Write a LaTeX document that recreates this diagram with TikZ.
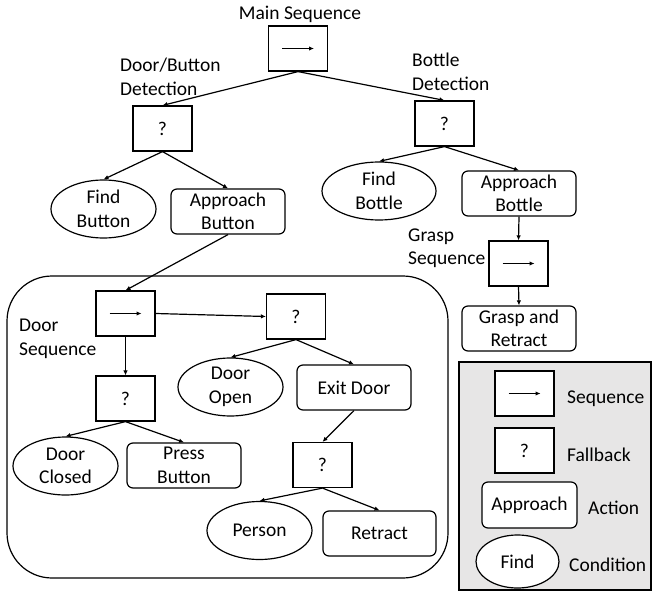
\documentclass[tikz,border=0pt]{standalone}
\usepackage{fontspec}
\setmainfont{Carlito}
\usetikzlibrary{shapes.geometric,arrows.meta}
\definecolor{legendgray}{HTML}{E7E6E6}
\begin{document}
\begin{tikzpicture}[x=1pt,y=-1pt,
  every node/.style={font=\fontsize{19.5}{23.5}\selectfont, inner sep=0pt},
  lw/.style={line width=1.2pt},
  ctrl/.style={lw, draw, fill=white, minimum width=59pt, minimum height=45pt},
  act/.style={lw, draw, fill=white, rounded corners=6pt, minimum width=114pt, minimum height=45pt, align=center},
  cond/.style={lw, draw, fill=white, ellipse, minimum width=105pt, minimum height=58pt, align=center},
  arr/.style={lw, -{Latex[length=5pt,width=4.5pt]}},
  lbl/.style={anchor=west, align=left}
]
\useasboundingbox (0,0) rectangle (652,601);
% group and legend frames
\draw[lw, rounded corners=45pt] (7,276) rectangle (448,578);
\draw[lw, fill=legendgray] (459,362) rectangle (651,590);

% macro-free sequence symbol via style
\tikzset{seqsym/.style={}}

% main tree
\node[ctrl] (main) at (298,48.5) {};
\node (mainlbl) at (300,14) {Main Sequence};

\node[ctrl] (dbd) at (162.5,128.5) {?};
\node[lbl] (dbdlbl) at (120,77) {Door/Button\\Detection};
\node[cond] (fbtn) at (103.5,209) {Find\\Button};
\node[act] (abtn) at (228,211.5) {Approach\\Button};

\node[ctrl] (bd) at (444.5,123.5) {?};
\node[lbl] (bdlbl) at (412,72) {Bottle\\Detection};
\node[cond, minimum width=114pt] (fbot) at (379,191) {Find\\Bottle};
\node[act] (abot) at (519,193.5) {Approach\\Bottle};
\node[ctrl] (gseq) at (518.5,263.5) {};
\node[lbl] (gseqlbl) at (408,248) {Grasp\\Sequence};
\node[act] (gret) at (519,328.5) {Grasp and\\Retract};

% door sequence group
\node[ctrl] (dseq) at (125.5,313.5) {};
\node[lbl] (dseqlbl) at (19,339) {Door\\Sequence};
\node[ctrl] (dfb2) at (296,316.5) {?};
\node[ctrl] (dfb1) at (125.5,398.5) {?};
\node[cond] (dclosed) at (65.5,466) {Door\\Closed};
\node[act] (press) at (184,465.5) {Press\\Button};
\node[cond] (dopen) at (230.5,387) {Door\\Open};
\node[act] (exit) at (354,387.5) {Exit Door};
\node[ctrl] (pfb) at (322.5,465) {?};
\node[cond] (person) at (259.5,530.5) {Person};
\node[act, minimum width=113pt] (retract) at (379.5,533.5) {Retract};

% legend
\node[ctrl] (lseq) at (524.5,393.5) {};
\node[lbl] (lseqlbl) at (567,399) {Sequence};
\node[ctrl] (lfb) at (524.5,450.5) {?};
\node[lbl] (lfblbl) at (567,455) {Fallback};
\node[act, minimum width=95pt, minimum height=46pt] (lact) at (529.5,505) {Approach};
\node[lbl] (lactlbl) at (588,508) {Action};
\node[cond, minimum width=83pt, minimum height=53pt] (lcond) at (517.5,561.5) {Find};
\node[lbl] (lcondlbl) at (569,565) {Condition};

% sequence symbols
\foreach \n in {main,gseq,dseq,lseq}{
  \draw[arr] ([xshift=-16pt]\n.center) -- ([xshift=16pt]\n.center);
}

% connectors
\draw[arr] (main.south) -- (dbd.north);
\draw[arr] (main.south) -- (bd.north);
\draw[arr] (dbd.south) -- (fbtn.north);
\draw[arr] (dbd.south) -- (abtn.north);
\draw[arr] (bd.south) -- (fbot.north);
\draw[arr] (bd.south) -- (abot.north);
\draw[arr] (abot.south) -- (gseq.north);
\draw[arr] (gseq.south) -- (gret.north);
\draw[arr] (abtn.south) -- (dseq.north);
\draw[arr] (dseq.east) -- (dfb2.west);
\draw[arr] (dseq.south) -- (dfb1.north);
\draw[arr] (dfb1.south) -- (dclosed.north);
\draw[arr] (dfb1.south) -- (press.north);
\draw[arr] (dfb2.south) -- (dopen.north);
\draw[arr] (dfb2.south) -- (exit.north);
\draw[arr] (exit.south) -- (pfb.north);
\draw[arr] (pfb.south) -- (person.north);
\draw[arr] (pfb.south) -- (retract.north);
\end{tikzpicture}
\end{document}
